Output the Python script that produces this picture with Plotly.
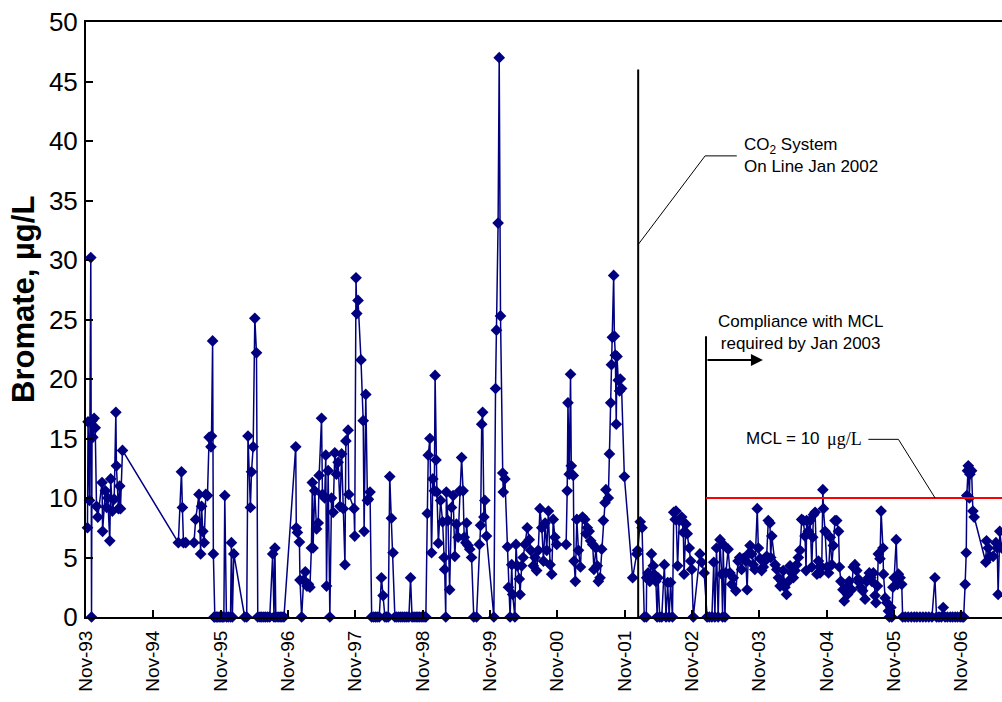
import plotly.graph_objects as go

# Bromate sampling results, grouped by period (date, µg/L)
dates_1993_1995 = [
    "1993-11-09", "1993-11-12", "1993-11-20", "1993-11-27", "1993-12-01", "1993-12-04",
    "1993-12-08", "1993-12-15", "1993-12-21", "1993-12-28", "1994-01-04", "1994-01-27",
    "1994-01-30", "1994-02-14", "1994-02-21", "1994-02-27", "1994-03-10", "1994-03-15",
    "1994-03-24", "1994-04-03", "1994-04-12", "1994-04-15", "1994-04-26", "1994-05-03",
    "1994-05-07", "1994-05-18", "1995-03-17", "1995-04-03", "1995-04-08", "1995-04-14",
    "1995-04-26", "1995-06-10", "1995-06-19", "1995-07-07", "1995-07-16", "1995-07-21",
    "1995-07-28", "1995-08-04", "1995-08-13", "1995-08-22", "1995-08-31", "1995-09-10",
    "1995-09-13", "1995-09-19", "1995-09-23", "1995-09-27", "1995-10-01", "1995-10-09",
    "1995-10-17", "1995-10-25", "1995-11-03", "1995-11-11", "1995-11-19", "1995-11-24",
    "1995-12-03", "1995-12-13", "1995-12-25", "1995-12-30", "1996-01-04", "1996-01-12",
]
bromate_1993_1995 = [
    7.5, 16.4, 9.8, 30.2, 0, 16.5,
    15.1, 16.7, 15.9, 9.3, 8.4, 11.3,
    7.2, 10.6, 9.2, 10.0, 6.4, 11.6,
    8.9, 9.9, 17.2, 12.7, 9.1, 11.0,
    9.1, 14.0, 6.25, 12.2, 9.2, 6.25,
    6.25, 6.25, 8.2, 10.3, 5.3, 9.3,
    7.2, 6.25, 10.3, 10.2, 15.1, 14.3,
    15.2, 23.2, 5.3, 0, 0, 0,
    0, 0, 0, 0, 0, 10.2,
    0, 0, 0, 6.25, 0, 5.3,
]

dates_1996_1997 = [
    "1996-03-11", "1996-03-22", "1996-03-29", "1996-04-11", "1996-04-17", "1996-04-26",
    "1996-05-05", "1996-05-14", "1996-05-21", "1996-06-02", "1996-06-12", "1996-06-23",
    "1996-07-03", "1996-07-14", "1996-07-25", "1996-08-10", "1996-08-17", "1996-08-22",
    "1996-08-27", "1996-09-08", "1996-09-19", "1996-09-29", "1996-10-10", "1996-12-13",
    "1996-12-16", "1996-12-22", "1997-01-02", "1997-01-05", "1997-01-14", "1997-01-25",
    "1997-02-03", "1997-02-12", "1997-02-20", "1997-02-28", "1997-03-08", "1997-03-13",
    "1997-03-17", "1997-03-26", "1997-04-05", "1997-04-14", "1997-04-19", "1997-05-02",
    "1997-05-07", "1997-05-19", "1997-05-25", "1997-05-29", "1997-06-07", "1997-06-16",
    "1997-06-25", "1997-07-04", "1997-07-13", "1997-07-22", "1997-07-31", "1997-08-10",
    "1997-08-19", "1997-08-28", "1997-09-06", "1997-09-11", "1997-09-23", "1997-09-27",
    "1997-10-25", "1997-10-29", "1997-11-05", "1997-11-09", "1997-11-16", "1997-12-02",
    "1997-12-14", "1997-12-19", "1997-12-28", "1998-01-06", "1998-01-11", "1998-01-20",
    "1998-01-29",
]
bromate_1996_1997 = [
    0, 0, 15.2, 9.2, 12.2, 14.3,
    25.1, 22.2, 0, 0, 0, 0,
    0, 0, 0, 5.3, 0, 5.8,
    0, 0, 0, 0, 0, 14.3,
    7.5, 7.1, 6.3, 3.1, 0, 3.1,
    3.8, 2.6, 2.75, 2.5, 5.8, 11.3,
    5.8, 10.6, 7.4, 7.9, 11.9, 16.7,
    10.3, 10.0, 13.6, 2.6, 12.3, 0,
    10.0, 8.8, 13.8, 12.0, 13.0, 9.3,
    13.7, 9.1, 4.4, 14.8, 15.7, 10.3,
    9.1, 6.8, 28.5, 25.5, 26.6, 21.6,
    16.5, 7.2, 18.7, 9.8, 9.9, 10.5,
    0,
]

dates_1998_1999 = [
    "1998-02-09", "1998-02-19", "1998-02-28", "1998-03-11", "1998-03-23", "1998-04-01",
    "1998-04-11", "1998-04-20", "1998-04-29", "1998-05-07", "1998-05-16", "1998-05-25",
    "1998-06-04", "1998-06-14", "1998-06-25", "1998-07-06", "1998-07-17", "1998-07-28",
    "1998-08-08", "1998-08-19", "1998-08-28", "1998-09-05", "1998-09-16", "1998-09-27",
    "1998-10-07", "1998-10-17", "1998-10-29", "1998-11-09", "1998-11-19", "1998-11-27",
    "1998-12-02", "1998-12-11", "1998-12-20", "1998-12-27", "1999-01-04", "1999-01-08",
    "1999-01-13", "1999-01-18", "1999-01-26", "1999-02-07", "1999-02-18", "1999-02-26",
    "1999-03-01", "1999-03-07", "1999-03-10", "1999-03-19", "1999-03-28", "1999-04-07",
    "1999-04-16", "1999-04-25", "1999-05-04", "1999-05-13", "1999-05-22", "1999-06-01",
    "1999-06-09", "1999-06-15", "1999-06-24", "1999-06-28", "1999-07-06", "1999-07-15",
    "1999-07-25", "1999-08-06", "1999-08-21", "1999-09-05", "1999-09-12", "1999-09-18",
    "1999-09-23", "1999-09-30", "1999-10-05", "1999-10-14", "1999-11-23", "1999-12-02",
    "1999-12-07", "1999-12-16", "1999-12-22", "1999-12-29",
]
bromate_1998_1999 = [
    0, 0, 0, 0, 3.3, 1.8,
    0, 0, 0, 11.8, 8.3, 5.4,
    0, 0, 0, 0, 0, 0,
    0, 0, 3.3, 0, 0, 0,
    0, 0, 0, 0, 0, 8.7,
    13.6, 15.0, 5.4, 11.6, 10.6, 20.3,
    13.2, 10.5, 6.2, 9.8, 8.0, 5.0,
    4.0, 0, 10.5, 8.1, 2.3, 9.2,
    10.2, 5.1, 7.8, 6.7, 10.6, 13.4,
    10.6, 6.7, 6.25, 7.9, 6.0, 5.7,
    5.0, 0, 0, 6.1, 7.7, 16.2,
    17.2, 8.4, 9.8, 6.8, 0, 19.2,
    24.1, 33.1, 47.0, 25.3,
]

dates_2000_2001 = [
    "2000-01-10", "2000-01-13", "2000-01-22", "2000-02-05", "2000-02-10", "2000-02-19",
    "2000-02-28", "2000-03-04", "2000-03-16", "2000-03-22", "2000-03-29", "2000-04-09",
    "2000-04-13", "2000-04-22", "2000-04-30", "2000-05-10", "2000-05-22", "2000-06-02",
    "2000-06-10", "2000-06-24", "2000-07-03", "2000-07-12", "2000-07-21", "2000-07-30",
    "2000-08-09", "2000-08-18", "2000-08-27", "2000-09-05", "2000-09-14", "2000-09-23",
    "2000-10-02", "2000-10-10", "2000-10-19", "2000-10-29", "2000-12-19", "2000-12-25",
    "2000-12-29", "2001-01-05", "2001-01-12", "2001-01-16", "2001-01-27", "2001-01-31",
    "2001-02-07", "2001-02-15", "2001-02-24", "2001-03-07", "2001-03-18", "2001-03-30",
    "2001-04-06", "2001-04-13", "2001-04-23", "2001-05-01", "2001-05-12", "2001-05-19",
    "2001-05-30", "2001-06-06", "2001-06-12", "2001-06-21", "2001-06-30", "2001-07-09",
    "2001-07-18", "2001-07-23", "2001-08-05", "2001-08-11", "2001-08-18", "2001-08-22",
    "2001-08-27", "2001-09-03", "2001-09-07", "2001-09-12", "2001-09-17", "2001-09-21",
    "2001-09-28", "2001-10-05", "2001-10-09", "2001-10-16", "2001-10-31", "2001-12-15",
]
bromate_2000_2001 = [
    12.1, 10.5, 11.6, 5.9, 2.5, 0,
    4.4, 1.9, 0, 6.1, 4.3, 3.2,
    1.9, 4.3, 5.0, 6.1, 7.5, 6.5,
    5.6, 4.3, 5.0, 3.9, 5.6, 9.1,
    7.5, 4.7, 7.9, 5.6, 8.9, 4.4,
    3.6, 8.2, 6.7, 6.1, 6.1, 10.6,
    18.0, 12.0, 20.4, 12.7, 11.9, 4.7,
    3.0, 8.2, 5.6, 4.2, 8.4, 8.2,
    7.0, 7.5, 7.2, 6.4, 6.1, 4.0,
    5.8, 4.3, 3.0, 3.3, 5.7, 8.1,
    9.6, 10.7, 10.0, 13.7, 18.0, 21.2,
    23.5, 28.7, 23.6, 22.0, 16.2, 21.9,
    19.9, 19.0, 20.0, 19.2, 11.8, 3.3,
]

dates_2002_2003 = [
    "2002-01-06", "2002-01-11", "2002-01-25", "2002-02-04", "2002-02-16", "2002-02-27",
    "2002-03-01", "2002-03-09", "2002-03-18", "2002-03-27", "2002-04-06", "2002-04-10",
    "2002-04-20", "2002-04-27", "2002-05-02", "2002-05-11", "2002-05-22", "2002-06-05",
    "2002-06-14", "2002-06-23", "2002-07-01", "2002-07-09", "2002-07-19", "2002-07-26",
    "2002-08-03", "2002-08-07", "2002-08-16", "2002-08-25", "2002-09-07", "2002-09-16",
    "2002-09-20", "2002-09-30", "2002-10-07", "2002-10-18", "2002-10-26", "2002-11-01",
    "2002-11-09", "2002-12-15", "2002-12-24", "2003-01-07", "2003-01-23", "2003-02-04",
    "2003-02-18", "2003-02-28", "2003-03-06", "2003-03-15", "2003-03-24", "2003-04-03",
    "2003-04-12", "2003-04-17", "2003-04-20", "2003-04-30", "2003-05-05", "2003-05-17",
    "2003-05-27", "2003-06-05", "2003-06-14", "2003-06-28", "2003-07-10", "2003-07-19",
    "2003-07-29", "2003-08-07", "2003-08-21", "2003-08-28", "2003-09-04", "2003-09-13",
    "2003-09-22", "2003-09-30", "2003-10-09", "2003-10-22", "2003-10-28", "2003-11-06",
    "2003-11-15", "2003-11-24", "2003-12-03", "2003-12-12", "2003-12-21", "2003-12-30",
]
bromate_2002_2003 = [
    5.3, 5.6, 8.0, 7.5, 0, 0,
    3.3, 3.7, 3.0, 5.3, 4.3, 3.6,
    3.0, 0, 3.3, 0, 0, 4.4,
    0, 2.9, 0, 2.9, 0, 8.8,
    8.2, 8.9, 4.3, 8.1, 8.4, 7.1,
    3.6, 7.8, 7.0, 5.8, 4.7, 4.0,
    0, 5.3, 4.6, 3.7, 0, 0,
    0, 4.6, 0, 5.8, 0, 6.5,
    3.6, 0, 6.1, 0, 3.7, 5.7,
    3.7, 2.75, 3.3, 2.2, 4.7, 5.0,
    4.0, 4.9, 4.7, 2.3, 5.3, 6.0,
    5.3, 4.4, 4.0, 9.1, 5.8, 4.9,
    3.9, 4.2, 4.7, 5.1, 8.1, 7.9,
]

dates_2004_2005 = [
    "2004-01-03", "2004-01-09", "2004-01-27", "2004-02-05", "2004-02-14", "2004-02-23",
    "2004-03-03", "2004-03-11", "2004-03-20", "2004-03-29", "2004-04-08", "2004-04-17",
    "2004-04-26", "2004-05-05", "2004-05-14", "2004-05-23", "2004-06-01", "2004-06-10",
    "2004-06-19", "2004-06-28", "2004-07-07", "2004-07-13", "2004-07-16", "2004-07-25",
    "2004-08-04", "2004-08-13", "2004-08-18", "2004-08-22", "2004-08-31", "2004-09-10",
    "2004-09-18", "2004-09-27", "2004-10-06", "2004-10-12", "2004-10-15", "2004-10-24",
    "2004-11-03", "2004-11-12", "2004-11-21", "2004-11-30", "2004-12-08", "2004-12-17",
    "2004-12-26", "2005-01-05", "2005-01-10", "2005-01-18", "2005-01-29", "2005-02-05",
    "2005-02-16", "2005-02-23", "2005-03-04", "2005-03-17", "2005-03-26", "2005-04-04",
    "2005-04-14", "2005-04-22", "2005-04-28", "2005-05-05", "2005-05-16", "2005-05-29",
    "2005-06-07", "2005-06-16", "2005-06-21", "2005-06-29", "2005-07-05", "2005-07-13",
    "2005-07-22", "2005-07-27", "2005-08-04", "2005-08-09", "2005-08-18", "2005-08-24",
    "2005-09-03", "2005-09-06", "2005-09-15", "2005-09-24", "2005-10-03", "2005-10-08",
    "2005-10-16", "2005-10-21", "2005-10-27", "2005-11-03", "2005-11-14", "2005-11-21",
    "2005-11-26", "2005-12-05", "2005-12-14", "2005-12-19",
]
bromate_2004_2005 = [
    5.0, 6.8, 4.4, 4.0, 3.3, 2.6,
    3.0, 3.9, 2.5, 1.9, 3.0, 4.3,
    3.7, 3.3, 3.9, 4.4, 5.0, 5.6,
    8.2, 8.1, 6.8, 3.9, 8.1, 7.2,
    8.1, 4.2, 6.7, 8.6, 8.8, 3.6,
    4.7, 3.7, 4.2, 10.7, 9.1, 7.2,
    4.2, 3.7, 6.7, 4.4, 6.0, 8.1,
    8.1, 7.2, 4.2, 3.0, 2.3, 1.35,
    2.5, 1.9, 3.0, 2.3, 4.2, 4.4,
    3.9, 3.2, 2.9, 2.5, 2.2, 1.5,
    3.0, 3.3, 3.7, 3.3, 3.0, 3.7,
    1.8, 1.2, 2.6, 5.3, 4.9, 8.9,
    5.8, 3.6, 1.6, 1.2, 0.5, 0,
    0.8, 0, 2.5, 3.3, 6.5, 2.75,
    3.6, 3.3, 2.75, 0,
]

dates_2006_2007 = [
    "2006-01-02", "2006-01-18", "2006-02-04", "2006-02-20", "2006-03-06", "2006-03-23",
    "2006-04-08", "2006-04-24", "2006-05-10", "2006-05-27", "2006-06-12", "2006-06-21",
    "2006-07-04", "2006-07-17", "2006-07-27", "2006-08-06", "2006-08-19", "2006-09-03",
    "2006-09-16", "2006-09-30", "2006-10-13", "2006-10-27", "2006-11-07", "2006-11-15",
    "2006-11-23", "2006-11-29", "2006-12-02", "2006-12-06", "2006-12-10", "2006-12-16",
    "2006-12-19", "2006-12-28", "2007-01-04", "2007-01-11", "2007-03-15", "2007-03-19",
    "2007-03-28", "2007-04-06", "2007-04-24", "2007-05-09", "2007-05-16", "2007-05-21",
    "2007-05-30", "2007-06-09", "2007-06-20",
]
bromate_2006_2007 = [
    0, 0, 0, 0, 0, 0,
    0, 0, 0, 0, 3.3, 0,
    0, 0, 0.8, 0, 0, 0,
    0, 0, 0, 0, 0, 0,
    2.75, 5.4, 10.2, 12.3, 12.7, 10.0,
    12.0, 12.3, 8.9, 8.4, 4.6, 6.4,
    5.8, 5.1, 5.1, 6.25, 5.8, 1.9,
    7.2, 5.8, 6.0,
]

# Reference events and the regulatory limit
co2_online_date = "2002-01-14"
compliance_date = "2003-01-17"
mcl_value = 10

sample_dates = (dates_1993_1995 + dates_1996_1997 + dates_1998_1999 + dates_2000_2001
                + dates_2002_2003 + dates_2004_2005 + dates_2006_2007)
bromate = (bromate_1993_1995 + bromate_1996_1997 + bromate_1998_1999 + bromate_2000_2001
           + bromate_2002_2003 + bromate_2004_2005 + bromate_2006_2007)

NAVY = "#000080"
x_start, x_end = "1993-11-01", "2007-06-11"

fig = go.Figure()
fig.add_trace(go.Scatter(
    x=sample_dates, y=bromate, mode="lines+markers",
    line=dict(color=NAVY, width=1.5),
    marker=dict(symbol="diamond", size=9, color=NAVY),
    cliponaxis=False, showlegend=False,
))

thin = dict(color="black", width=1)
fig.update_layout(
    width=1002, height=702,
    margin=dict(l=86, r=0, t=22, b=85),
    paper_bgcolor="white", plot_bgcolor="white",
    font=dict(family="Liberation Sans, Arial, sans-serif", color="black"),
    xaxis=dict(
        type="date", range=[x_start, x_end],
        tick0="1993-11-01", dtick="M12", tickformat="%b-%y", tickangle=-90,
        ticks="inside", ticklen=7, tickwidth=1.5, tickcolor="black",
        showline=True, linecolor="black", linewidth=2, mirror=True,
        showgrid=False, zeroline=False,
        tickfont=dict(size=19), ticklabelstandoff=4,
    ),
    yaxis=dict(
        range=[0, 50], dtick=5,
        ticks="inside", ticklen=7, tickwidth=1.5, tickcolor="black",
        showline=True, linecolor="black", linewidth=2,
        showgrid=False, zeroline=False,
        tickfont=dict(size=26), ticklabelstandoff=1,
    ),
    shapes=[
        dict(type="line", xref="x", yref="y", x0=co2_online_date, x1=co2_online_date,
             y0=0, y1=46.0, line=dict(color="black", width=2), layer="above"),
        dict(type="line", xref="x", yref="y", x0=compliance_date, x1=compliance_date,
             y0=0, y1=23.6, line=dict(color="black", width=2), layer="above"),
        dict(type="line", xref="x", yref="y", x0=compliance_date, x1=x_end,
             y0=mcl_value, y1=mcl_value, line=dict(color="#FF0000", width=2), layer="above"),
        # leader for the CO2 note
        dict(type="line", xref="x", yref="y", x0=co2_online_date, y0=31.3,
             x1="2003-01-12", y1=38.75, line=thin),
        dict(type="line", xref="x", yref="y", x0="2003-01-12", y0=38.75,
             x1="2003-07-03", y1=38.75, line=thin),
        # leader for the MCL note
        dict(type="line", xref="x", yref="y", x0="2005-06-16", y0=14.93,
             x1="2005-11-26", y1=14.93, line=thin),
        dict(type="line", xref="x", yref="y", x0="2005-11-26", y0=14.93,
             x1="2006-06-13", y1=mcl_value, line=thin),
    ],
    annotations=[
        dict(text="<b>Bromate, µg/L</b>", xref="paper", yref="paper",
             x=-0.068, y=0.534, xanchor="center", yanchor="middle",
             textangle=-90, showarrow=False, font=dict(size=31)),
        dict(text="CO<sub>2</sub> System<br>On Line Jan 2002", xref="x", yref="y",
             x="2003-08-01", y=38.8, xanchor="left", yanchor="middle", align="left",
             showarrow=False, font=dict(size=17)),
        dict(text="Compliance with MCL<br>required by Jan 2003", xref="x", yref="y",
             x="2004-06-10", y=23.9, xanchor="center", yanchor="middle", align="center",
             showarrow=False, font=dict(size=17)),
        dict(text="MCL = 10", xref="x", yref="y", x="2004-10-10", y=15.0,
             xanchor="right", yanchor="middle", showarrow=False, font=dict(size=17)),
        dict(text="μg/L", xref="x", yref="y", x="2004-10-24", y=15.0,
             xanchor="left", yanchor="middle", showarrow=False,
             font=dict(size=18, family="Liberation Serif, Times New Roman, serif")),
        dict(text="", xref="x", yref="y", axref="x", ayref="y",
             x="2003-11-22", y=21.6, ax=compliance_date, ay=21.6,
             showarrow=True, arrowhead=2, arrowsize=1.2, arrowwidth=2, arrowcolor="black"),
    ],
)

fig.write_html("out.html")
